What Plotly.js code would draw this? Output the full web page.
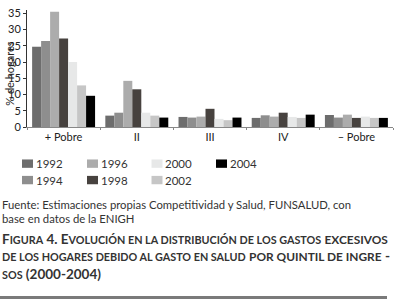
<!DOCTYPE html>
<html>
<head>
<meta charset="utf-8">
<script src="https://cdn.plot.ly/plotly-3.0.1.min.js"></script>
<style>
  html, body { margin: 0; padding: 0; background: #fff; }
  #chart { width: 394px; height: 303px; }
</style>
</head>
<body>
<div id="chart"></div>
<script>
// ---- data ----
var categories = ['+ Pobre', 'II', 'III', 'IV', '– Pobre'];
var years = ['1992', '1994', '1996', '1998', '2000', '2002', '2004'];
var v1992 = [24.7, 3.5, 3.1, 2.8, 3.7];
var v1994 = [26.5, 4.4, 2.9, 3.6, 2.9];
var v1996 = [35.5, 14.2, 3.2, 3.2, 3.8];
var v1998 = [27.2, 11.6, 5.6, 4.4, 2.8];
var v2000 = [20.0, 4.4, 2.5, 3.1, 3.2];
var v2002 = [12.8, 3.5, 2.1, 2.8, 2.8];
var v2004 = [9.6, 2.9, 2.9, 3.8, 2.8];
var yTickVals = [0, 5, 10, 15, 20, 25, 30, 35];
var yAxisTitle = '% de hogares';
var sourceLines = ['Fuente: Estimaciones propias Competitividad y Salud, FUNSALUD, con',
                   'base en datos de la ENIGH'];

// ---- styles ----
var seriesValues = [v1992, v1994, v1996, v1998, v2000, v2002, v2004];
var colors = ['#6d6d6d', '#8e8e8e', '#acacac', '#47423f', '#e7e8e8', '#c6c6c6', '#000000'];
var FONT = 'Lato, "Open Sans", sans-serif';
var W = 394, H = 303;
var M = {l: 27, r: 1, t: 10, b: 175.5};
function py(ypx) { return (H - M.b - ypx) / (H - M.t - M.b); }
function pxX(xpx) { return (xpx - M.l) / (W - M.l - M.r); }

var traces = years.map(function (yr, i) {
  return {
    type: 'bar', name: yr, x: categories, y: seriesValues[i],
    marker: {color: colors[i], line: {width: 0}},
    showlegend: false, hoverinfo: 'skip'
  };
});

var shapes = [];
var annotations = [];
// y axis title
annotations.push({xref: 'paper', yref: 'paper', x: pxX(9.5), y: py(73.5),
  xanchor: 'center', yanchor: 'middle', textangle: -90, showarrow: false,
  text: yAxisTitle, font: {family: FONT, size: 11, color: '#222'}});
// legend (column-major: 2 rows)
var colX = [22, 87, 151.5, 216];
var rowY = [164.3, 180.8];
years.forEach(function (yr, i) {
  var col = Math.floor(i / 2), row = i % 2;
  var x0 = colX[col], yc = rowY[row];
  shapes.push({type: 'rect', xref: 'paper', yref: 'paper',
    x0: pxX(x0), x1: pxX(x0 + 11), y0: py(yc + 4.2), y1: py(yc - 4.2),
    fillcolor: colors[i], line: {width: 0}});
  annotations.push({xref: 'paper', yref: 'paper', x: pxX(x0 + 11.5), y: py(yc),
    xanchor: 'left', yanchor: 'middle', showarrow: false, text: yr,
    font: {family: FONT, size: 11.5, color: '#333'}});
});
// source
var sourceY = [205, 219];
sourceLines.forEach(function (t, i) {
  annotations.push({xref: 'paper', yref: 'paper', x: pxX(0), y: py(sourceY[i]),
    xanchor: 'left', yanchor: 'middle', showarrow: false, text: t,
    font: {family: FONT, size: 11.3, color: '#333'}});
});
// figure title (small caps imitation)
var sc = function (s) { return "<span style='font-size:10.8px'>" + s + "</span>"; };
var sc2 = function (s) { return "<span style='font-size:11.9px'>" + s + "</span>"; };
var titleLines = [
  '<b>F' + sc('IGURA') + ' 4. E' + sc('VOLUCIÓN EN LA DISTRIBUCIÓN DE LOS GASTOS') + ' ' + sc2('EXCESIVOS') + '</b>',
  '<b>' + sc('DE LOS HOGARES DEBIDO AL GASTO EN SALUD') + ' ' + sc2('POR QUINTIL DE INGRE') + ' -</b>',
  '<b>' + sc('SOS') + ' (2000-2004)</b>'
];
var titleY = [239.5, 257.5, 275.5];
titleLines.forEach(function (t, i) {
  annotations.push({xref: 'paper', yref: 'paper', x: pxX(0), y: py(titleY[i]),
    xanchor: 'left', yanchor: 'middle', showarrow: false, text: t,
    font: {family: FONT, size: 13.5, color: '#333'}});
});
// bottom rule
shapes.push({type: 'rect', xref: 'paper', yref: 'paper',
  x0: pxX(0), x1: pxX(387), y0: py(300.2), y1: py(297.2),
  fillcolor: '#7a7a7a', line: {width: 0}});

var layout = {
  width: W, height: H,
  margin: M,
  paper_bgcolor: '#fff', plot_bgcolor: '#fff',
  barmode: 'group', bargap: 0.14, bargroupgap: 0,
  showlegend: false,
  font: {family: FONT, size: 11, color: '#222'},
  xaxis: {
    type: 'category', showgrid: false, zeroline: false,
    showline: true, linecolor: '#888', linewidth: 1,
    ticks: 'outside', tickson: 'boundaries', ticklen: 2, tickcolor: '#888',
    tickfont: {family: FONT, size: 11, color: '#222'},
    layer: 'below traces', fixedrange: true
  },
  yaxis: {
    range: [0, 36], showgrid: false, zeroline: false,
    showline: true, linecolor: '#333', linewidth: 1,
    ticks: 'outside', ticklen: 3, tickcolor: '#333',
    tickvals: yTickVals, ticktext: yTickVals.map(String),
    tickfont: {family: FONT, size: 11, color: '#222'},
    fixedrange: true
  },
  shapes: shapes,
  annotations: annotations
};

Plotly.newPlot('chart', traces, layout, {staticPlot: true, displayModeBar: false});
</script>
</body>
</html>
